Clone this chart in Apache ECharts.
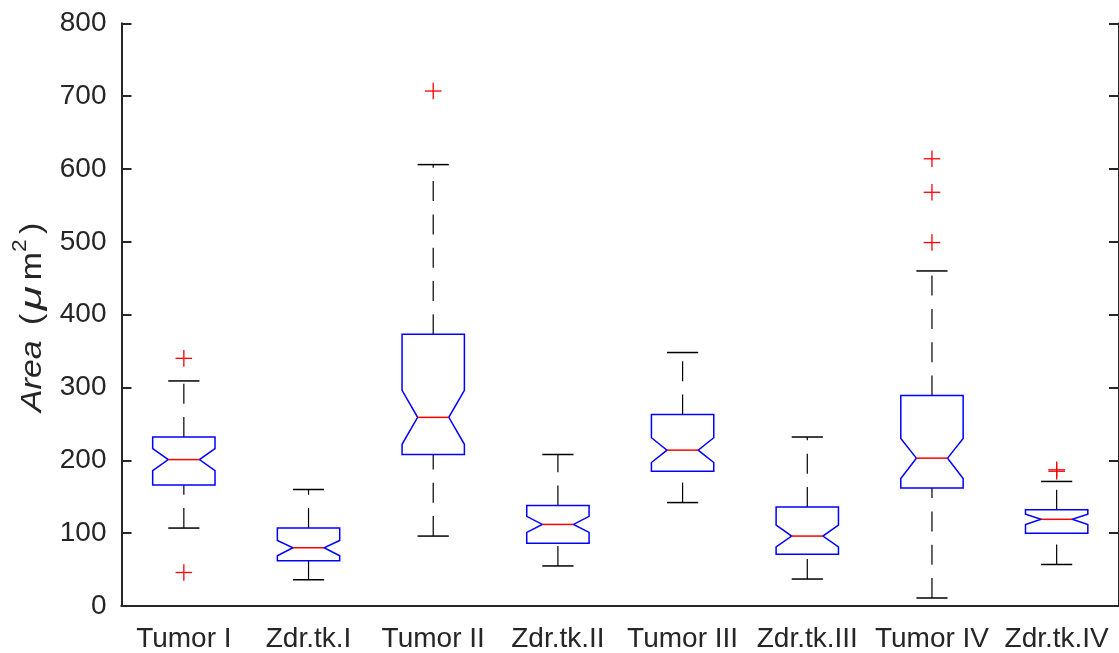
<!DOCTYPE html>
<html>
<head>
<meta charset="utf-8">
<script src="https://cdn.jsdelivr.net/npm/echarts@6/dist/echarts.min.js"></script>
<style>
  html, body { margin: 0; padding: 0; background: #fff; }
  #chart { width: 1119px; height: 653px; }
</style>
</head>
<body>
<div id="chart"></div>
<script>
// Notched box plot of cell area per group
const categories = ['Tumor I', 'Zdr.tk.I', 'Tumor II', 'Zdr.tk.II', 'Tumor III', 'Zdr.tk.III', 'Tumor IV', 'Zdr.tk.IV'];
const lowerWhisker = [107, 36, 96, 55, 142, 37, 11, 57];
const q1           = [166, 62, 208, 86, 185, 71, 162, 100];
const notchLow     = [186, 69, 222, 101, 197, 81, 175, 112];
const median       = [201, 80, 259, 112, 214, 96, 203, 119];
const notchHigh    = [216, 90, 296, 123, 231, 111, 230, 126];
const q3           = [232, 107, 373, 138, 263, 136, 289, 132];
const upperWhisker = [309, 160, 606, 208, 348, 232, 460, 171];
// outliers as [category index, value]
const outliers = [[0, 340], [0, 46], [2, 707], [6, 614], [6, 568], [6, 499], [7, 185], [7, 187]];
const yTicks = [0, 100, 200, 300, 400, 500, 600, 700, 800];

const FONT = '"Liberation Sans", Arial, Helvetica, sans-serif';
const AXIS = '#262626';

const boxData = categories.map((c, i) => [i, lowerWhisker[i], q1[i], notchLow[i], median[i], notchHigh[i], q3[i], upperWhisker[i]]);

function renderBox(params, api) {
  const i = api.value(0);
  const band = api.size([1, 0])[0];
  const w = band * 0.25;       // half box width
  const h = w / 2;             // half notch / cap width
  const P = k => api.coord([i, api.value(k)]);
  const lw = P(1), b1 = P(2), nl = P(3), md = P(4), nh = P(5), b3 = P(6), uw = P(7);
  const x = md[0];
  const dash = { stroke: '#000', lineWidth: 1.2, lineDash: [20, 13.3] };
  const solid = { stroke: '#000', lineWidth: 1.5 };
  return { type: 'group', children: [
    // whiskers, each drawn from its lower end upward
    { type: 'line', shape: { x1: x, y1: b3[1], x2: x, y2: uw[1] }, style: dash },
    { type: 'line', shape: { x1: x, y1: lw[1], x2: x, y2: b1[1] }, style: dash },
    // caps
    { type: 'line', shape: { x1: x - h, y1: uw[1], x2: x + h, y2: uw[1] }, style: solid },
    { type: 'line', shape: { x1: x - h, y1: lw[1], x2: x + h, y2: lw[1] }, style: solid },
    // notched box
    { type: 'polygon', shape: { points: [
        [x - w, b1[1]], [x + w, b1[1]], [x + w, nl[1]], [x + h, md[1]], [x + w, nh[1]],
        [x + w, b3[1]], [x - w, b3[1]], [x - w, nh[1]], [x - h, md[1]], [x - w, nl[1]]
      ] }, style: { fill: 'none', stroke: '#0000ff', lineWidth: 1.5 } },
    // median
    { type: 'line', shape: { x1: x - h, y1: md[1], x2: x + h, y2: md[1] }, style: { stroke: '#ff0000', lineWidth: 1.5 } }
  ] };
}

function renderOutlier(params, api) {
  const p = api.coord([api.value(0), api.value(1)]);
  const s = 8.3;
  const st = { stroke: '#ff0000', lineWidth: 1.3 };
  return { type: 'group', children: [
    { type: 'line', shape: { x1: p[0] - s, y1: p[1], x2: p[0] + s, y2: p[1] }, style: st },
    { type: 'line', shape: { x1: p[0], y1: p[1] - s, x2: p[0], y2: p[1] + s }, style: st }
  ] };
}

// y-axis title: Area (μm²), rotated, slightly stretched along its length
function titlePart(text, x, y, size, italic, sx) {
  return { type: 'text', x: x, y: y, scaleX: sx || 1, style: {
    text: text, fill: AXIS, fontSize: size, fontFamily: FONT,
    fontStyle: italic ? 'italic' : 'normal', align: 'left', verticalAlign: 'middle'
  } };
}
const yTitle = {
  type: 'group', x: 32.5, y: 412, rotation: Math.PI / 2, scaleX: 1.13, silent: true,
  children: [
    titlePart('Area', 0, 0, 30, true),
    titlePart('(', 77, 0, 30, false),
    titlePart('\u03bc', 90, 0, 30, true, 1.3),
    titlePart('m', 116.5, 0, 30, false),
    titlePart('2', 141.5, -12.5, 20, false),
    titlePart(')', 157.5, 0, 30, false)
  ]
};

const chart = echarts.init(document.getElementById('chart'), null, { renderer: 'canvas' });
const yMin = yTicks[0], yMax = yTicks[yTicks.length - 1], yStep = yTicks[1] - yTicks[0];
const axisLine = { lineStyle: { color: AXIS, width: 2 } };
const axisTick = { inside: true, length: 10, lineStyle: { color: AXIS, width: 2 } };

chart.setOption({
  animation: false,
  backgroundColor: '#fff',
  grid: { left: 121.5, right: -1, top: 23.3, bottom: 44.3, containLabel: false },
  xAxis: [{
    type: 'category', data: categories, position: 'bottom', boundaryGap: true,
    axisLine: axisLine,
    axisTick: Object.assign({ alignWithLabel: true }, axisTick),
    axisLabel: { color: AXIS, fontFamily: FONT, fontSize: 28, margin: 19, interval: 0 },
    splitLine: { show: false }
  }, {
    type: 'category', data: categories, position: 'top', boundaryGap: true,
    axisLine: axisLine,
    axisTick: Object.assign({ alignWithLabel: true }, axisTick),
    axisLabel: { show: false }, splitLine: { show: false }
  }],
  yAxis: [{
    type: 'value', min: yMin, max: yMax, interval: yStep, position: 'left',
    axisLine: Object.assign({ show: true }, axisLine),
    axisTick: Object.assign({ show: true }, axisTick),
    axisLabel: { color: AXIS, fontFamily: FONT, fontSize: 28, margin: 15 },
    splitLine: { show: false }
  }, {
    type: 'value', min: yMin, max: yMax, interval: yStep, position: 'right',
    axisLine: Object.assign({ show: true }, axisLine),
    axisTick: Object.assign({ show: true }, axisTick),
    axisLabel: { show: false }, splitLine: { show: false }
  }],
  graphic: [yTitle],
  series: [{
    type: 'custom', xAxisIndex: 0, yAxisIndex: 0,
    renderItem: renderBox, data: boxData,
    encode: { x: 0, y: [1, 2, 3, 4, 5, 6, 7] }, clip: false
  }, {
    type: 'custom', xAxisIndex: 0, yAxisIndex: 0,
    renderItem: renderOutlier, data: outliers,
    encode: { x: 0, y: 1 }, clip: false
  }]
});
</script>
</body>
</html>
